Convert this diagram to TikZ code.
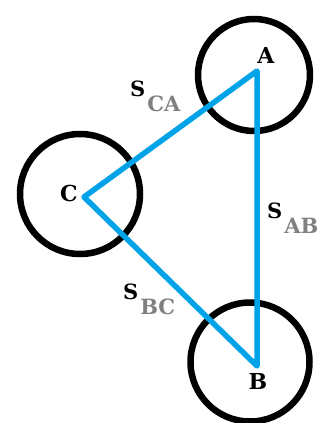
\documentclass[tikz,border=0pt]{standalone}
\usepackage{fontspec}
\setmainfont{DejaVu Serif}
\usepackage{xcolor}
\usetikzlibrary{positioning}
\definecolor{linkblue}{RGB}{0,162,232}
\definecolor{subgray}{RGB}{128,128,128}
\newcommand{\sdist}[1]{\textbf{S}\hspace{2pt}\raisebox{-15pt}{\color{subgray}#1}}

\begin{document}
\begin{tikzpicture}[x=1pt,y=-1pt,line join=round]
\tikzstyle{ring}=[draw, circle, line width=6.5pt, inner sep=0pt]
\tikzstyle{link}=[draw=linkblue, line width=5.5pt]
\tikzstyle{vlabel}=[font=\fontsize{22}{24}\selectfont\bfseries, inner sep=0pt]
\tikzstyle{slabel}=[font=\fontsize{21}{23}\selectfont\bfseries, inner sep=0pt, anchor=base west]
\useasboundingbox (0,0) rectangle (322,423);
% the three circles
\node[ring, minimum size=112pt] (ringA) at (254,75) {};
\node[ring, minimum size=120pt] (ringC) at (80,194) {};
\node[ring, minimum size=119pt] (ringB) at (250,362) {};
% triangle corners
\coordinate (vA) at (257,71);
\coordinate (vB) at (257,366);
\coordinate (vC) at (84,197);
\draw[link] (vA) -- (vC) -- (vB) -- cycle;
% corner names
\node[vlabel] (labA) at (266,55) {A};
\node[vlabel] (labB) at (258,381) {B};
\node[vlabel] (labC) at (69,193) {C};
% distances
\node[slabel] (sCA) at (130,96) {\sdist{CA}};
\node[slabel] (sAB) at (267,218) {\sdist{AB}};
\node[slabel] (sBC) at (123,299) {\sdist{BC}};
\end{tikzpicture}
\end{document}
